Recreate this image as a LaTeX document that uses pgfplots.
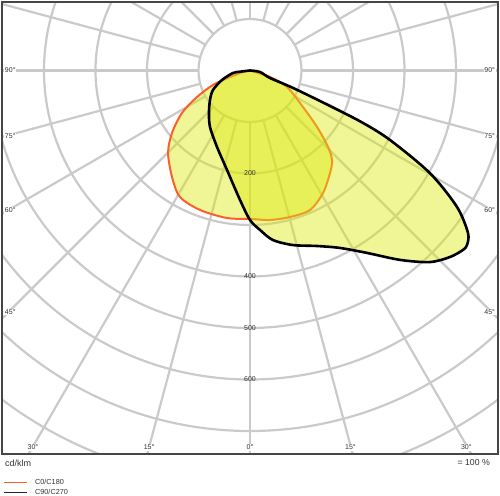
\documentclass[border=0pt]{standalone}
\usepackage{pgfplots}
\usepackage{pgfplotstable}
\pgfplotsset{compat=1.18}
\usepackage{fontspec}
\setmainfont{Liberation Sans}
\definecolor{gridc}{RGB}{202,202,202}
\definecolor{framec}{RGB}{70,70,70}
\definecolor{orangec}{RGB}{250,95,45}
\definecolor{fillc}{RGB}{220,232,10}
\definecolor{txt}{RGB}{50,50,50}

% C90/C270: gamma (deg, + = right side), intensity (cd/klm)
\pgfplotstableread{
g r
90 0
81.5 19.6
69.4 41.5
67.9 90.1
66.1 169.9
65.1 241.9
63.6 303.5
60.3 402.2
56.6 481.5
53.3 528
51.2 540.7
49.9 540.8
47.0 531
43.2 510.3
38.4 469.3
32.7 421
26.9 386.4
20.9 364.8
13.8 349
7.7 332.2
3.6 310.3
0 290.3
-4.4 252.2
-13.0 198.3
-23.3 161.8
-35.3 134.4
-44.0 114.7
-53.6 96.5
-62.2 81.2
-71.3 57.4
-81.6 33.4
-83 19.5
-90 0
}\blackdata

% C0/C180
\pgfplotstableread{
g r
90 0
72.0 40.8
66.0 78.7
55.4 125
49.9 170.2
45.6 212.1
42.5 235.7
38.0 252.5
30.8 276.9
23.3 294.9
15.3 294.9
7.6 292.9
0 288.3
-8.9 289.9
-19.7 287.7
-29.0 280.7
-36.2 256.3
-44.8 225.8
-51.3 194.1
-58.0 155.7
-63.4 115.1
-68.6 77.2
-72.0 40.8
-77.9 13.9
-90 0
}\orangedata

\begin{document}
\begin{tikzpicture}[lbl/.style={font=\fontsize{7}{8}\selectfont, text=txt, inner sep=0.8pt}]
\useasboundingbox (-2pt,-41pt) rectangle (498pt,454pt);
\begin{axis}[
  at={(0pt,0pt)}, anchor=south west,
  scale only axis, width=496pt, height=452pt,
  xmin=-481.55, xmax=481.55, ymin=-744.65, ymax=133,
  axis lines=box, xtick=\empty, ytick=\empty,
  axis line style={draw=framec, line width=2.6pt},
  axis on top,
  clip=true,
  legend cell align=left,
  legend image code/.code={\draw[#1] (0pt,0pt) -- (23pt,0pt);},
  legend style={at={(axis description cs:0,0)}, anchor=north west,
    xshift=1pt, yshift=-24pt, draw=none, fill=none, inner sep=0pt,
    font=\fontsize{7.3}{8.5}\selectfont, text=txt, row sep=1.5pt,
    nodes={inner sep=1pt},
    /tikz/every odd column/.append style={column sep=7pt}},
]
\pgfplotsinvokeforeach{100,200,...,900}{
  \draw[gridc, line width=2.2pt] (axis cs:0,0) circle[radius=#1];}
\pgfplotsinvokeforeach{0,15,...,345}{
  \draw[gridc, line width=2.2pt] (axis cs:{100*sin(#1)},{100*cos(#1)}) -- (axis cs:{1000*sin(#1)},{1000*cos(#1)});}

\addplot[forget plot, smooth, draw=orangec, line width=2pt, fill=fillc, fill opacity=0.43, draw opacity=1]
  table[x expr={\thisrow{r}*sin(\thisrow{g})}, y expr={-\thisrow{r}*cos(\thisrow{g})}] {\orangedata} -- cycle;
\addplot[forget plot, smooth, draw=black, line width=2.6pt, fill=fillc, fill opacity=0.43, draw opacity=1]
  table[x expr={\thisrow{r}*sin(\thisrow{g})}, y expr={-\thisrow{r}*cos(\thisrow{g})}] {\blackdata} -- cycle;

\addlegendimage{orangec, line width=0.9pt}
\addlegendentry{C0/C180}
\addlegendimage{black!85, line width=0.9pt}
\addlegendentry{C90/C270}

% angle labels
\node[lbl, fill=white, anchor=west] at (axis cs:-477.7,0) {90°};
\node[lbl, fill=white, anchor=west] at (axis cs:-477.7,-127.2) {75°};
\node[lbl, fill=white, anchor=west] at (axis cs:-477.7,-271.8) {60°};
\node[lbl, fill=white, anchor=west] at (axis cs:-477.7,-468.9) {45°};
\node[lbl, fill=white, anchor=east] at (axis cs:477.7,0) {90°};
\node[lbl, fill=white, anchor=east] at (axis cs:477.7,-127.2) {75°};
\node[lbl, fill=white, anchor=east] at (axis cs:477.7,-271.8) {60°};
\node[lbl, fill=white, anchor=east] at (axis cs:477.7,-468.9) {45°};
\node[lbl, fill=white, anchor=base] at (axis cs:-421.4,-736.5) {30°};
\node[lbl, fill=white, anchor=base] at (axis cs:-196,-736.5) {15°};
\node[lbl, fill=white, anchor=base] at (axis cs:0,-736.5) {0°};
\node[lbl, fill=white, anchor=base] at (axis cs:195,-736.5) {15°};
\node[lbl, fill=white, anchor=base] at (axis cs:420,-736.5) {30°};
% intensity labels
\node[lbl] at (axis cs:0,-200) {200};
\node[lbl] at (axis cs:0,-400) {400};
\node[lbl] at (axis cs:0,-500) {500};
\node[lbl] at (axis cs:0,-600) {600};
\end{axis}
\node[anchor=west, inner sep=0pt, font=\fontsize{9}{10}\selectfont, text=txt] at ([shift={(3pt,-9pt)}]current axis.south west) {cd/klm};
\node[anchor=east, inner sep=0pt, font=\fontsize{8.7}{10}\selectfont, text=txt] at ([shift={(-8pt,-9pt)}]current axis.south east) {= 100 \%};
\end{tikzpicture}
\end{document}
